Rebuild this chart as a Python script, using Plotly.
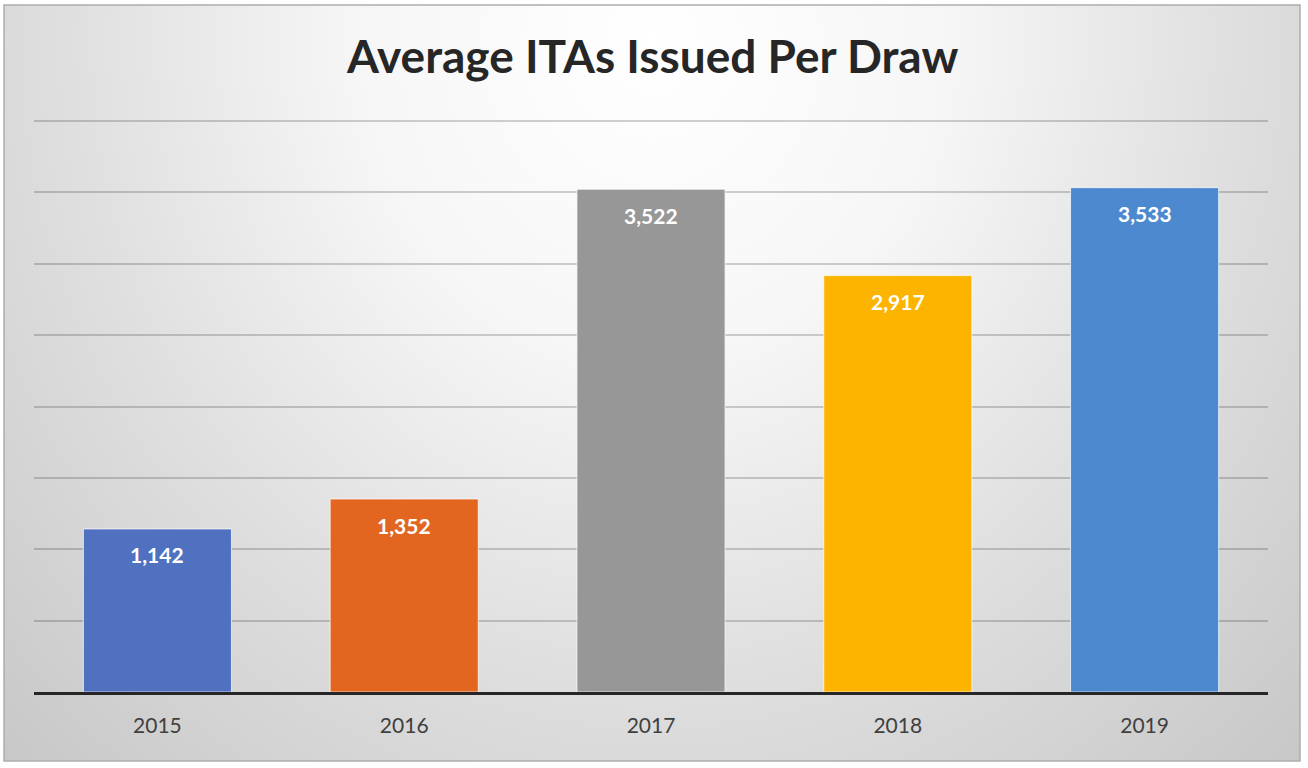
import plotly.graph_objects as go

# ---- data ----
years = ["2015", "2016", "2017", "2018", "2019"]
avg_itas = [1142, 1352, 3522, 2917, 3533]
bar_colors = ["#4F71BF", "#E2661F", "#979797", "#FCB400", "#4D89CE"]
title_text = "Average ITAs Issued Per Draw"

W, H = 1308, 768

fig = go.Figure()

# decorative radial background (extends beyond the framed area so the light centre sits near the top)
bg_x = [-0.25, 1.25, 1.25, -0.25, -0.25]
bg_y = [-0.45, -0.45, 2.35, 2.35, -0.45]
fig.add_trace(go.Scatter(
    x=bg_x, y=bg_y, mode="none", fill="toself",
    fillgradient=dict(type="radial",
                      colorscale=[[0, "#ffffff"], [0.3, "#f6f6f6"], [0.6, "#dfdfdf"], [1, "#c4c4c4"]]),
    hoverinfo="skip", showlegend=False, xaxis="x", yaxis="y",
))

fig.add_trace(go.Bar(
    x=years, y=avg_itas,
    marker=dict(color=bar_colors, line=dict(color="rgba(255,255,255,0.7)", width=1)),
    showlegend=False, hoverinfo="x+y",
    xaxis="x2", yaxis="y2",
))

for i, v in enumerate(avg_itas):
    fig.add_annotation(
        x=i, y=v, xref="x2", yref="y2", text=f"{v:,}", showarrow=False,
        yanchor="middle", yshift=-26,
        font=dict(family="Lato", size=21, color="#ffffff", weight="bold"),
    )

fig.add_annotation(
    x=0.4985, y=(H - 56) / H, xref="paper", yref="paper", text=title_text,
    showarrow=False, xanchor="center", yanchor="middle",
    font=dict(family="Lato", size=46, color="#262626", weight="bold"),
)

frame = dict(x0=4 / W, x1=1300 / W, y0=(H - 761) / H, y1=(H - 5) / H)

fig.add_shape(type="rect", xref="paper", yref="paper",
              x0=frame["x0"], x1=frame["x1"], y0=frame["y0"], y1=frame["y1"],
              line=dict(color="#adadad", width=1.5), fillcolor="rgba(0,0,0,0)")

plot_top, plot_bottom = 118, 692
ymax = 4000 * (plot_bottom - plot_top) / (692 - 121)

fig.update_layout(
    width=W, height=H,
    margin=dict(l=0, r=0, t=0, b=0, autoexpand=False),
    paper_bgcolor="#ffffff",
    plot_bgcolor="rgba(0,0,0,0)",
    bargap=0.4,
    xaxis=dict(domain=[frame["x0"], frame["x1"]], range=[0, 1], visible=False, fixedrange=True),
    yaxis=dict(domain=[frame["y0"], frame["y1"]], range=[0, 1], visible=False, fixedrange=True),
    xaxis2=dict(type="category", domain=[34 / W, 1268 / W], anchor="y2", range=[-0.5, len(years) - 0.5],
                showgrid=False, showline=True,
                linecolor="#262626", linewidth=3, ticks="", ticklabelstandoff=13, automargin=False,
                tickfont=dict(family="Lato", size=21, color="#404040")),
    yaxis2=dict(domain=[(H - plot_bottom) / H, (H - plot_top) / H], anchor="x2",
                range=[0, ymax], tick0=0, dtick=500, showticklabels=False, automargin=False,
                showgrid=True, gridcolor="rgba(0,0,0,0.18)", gridwidth=1.5, zeroline=False),
)

fig.write_html("out.html")
